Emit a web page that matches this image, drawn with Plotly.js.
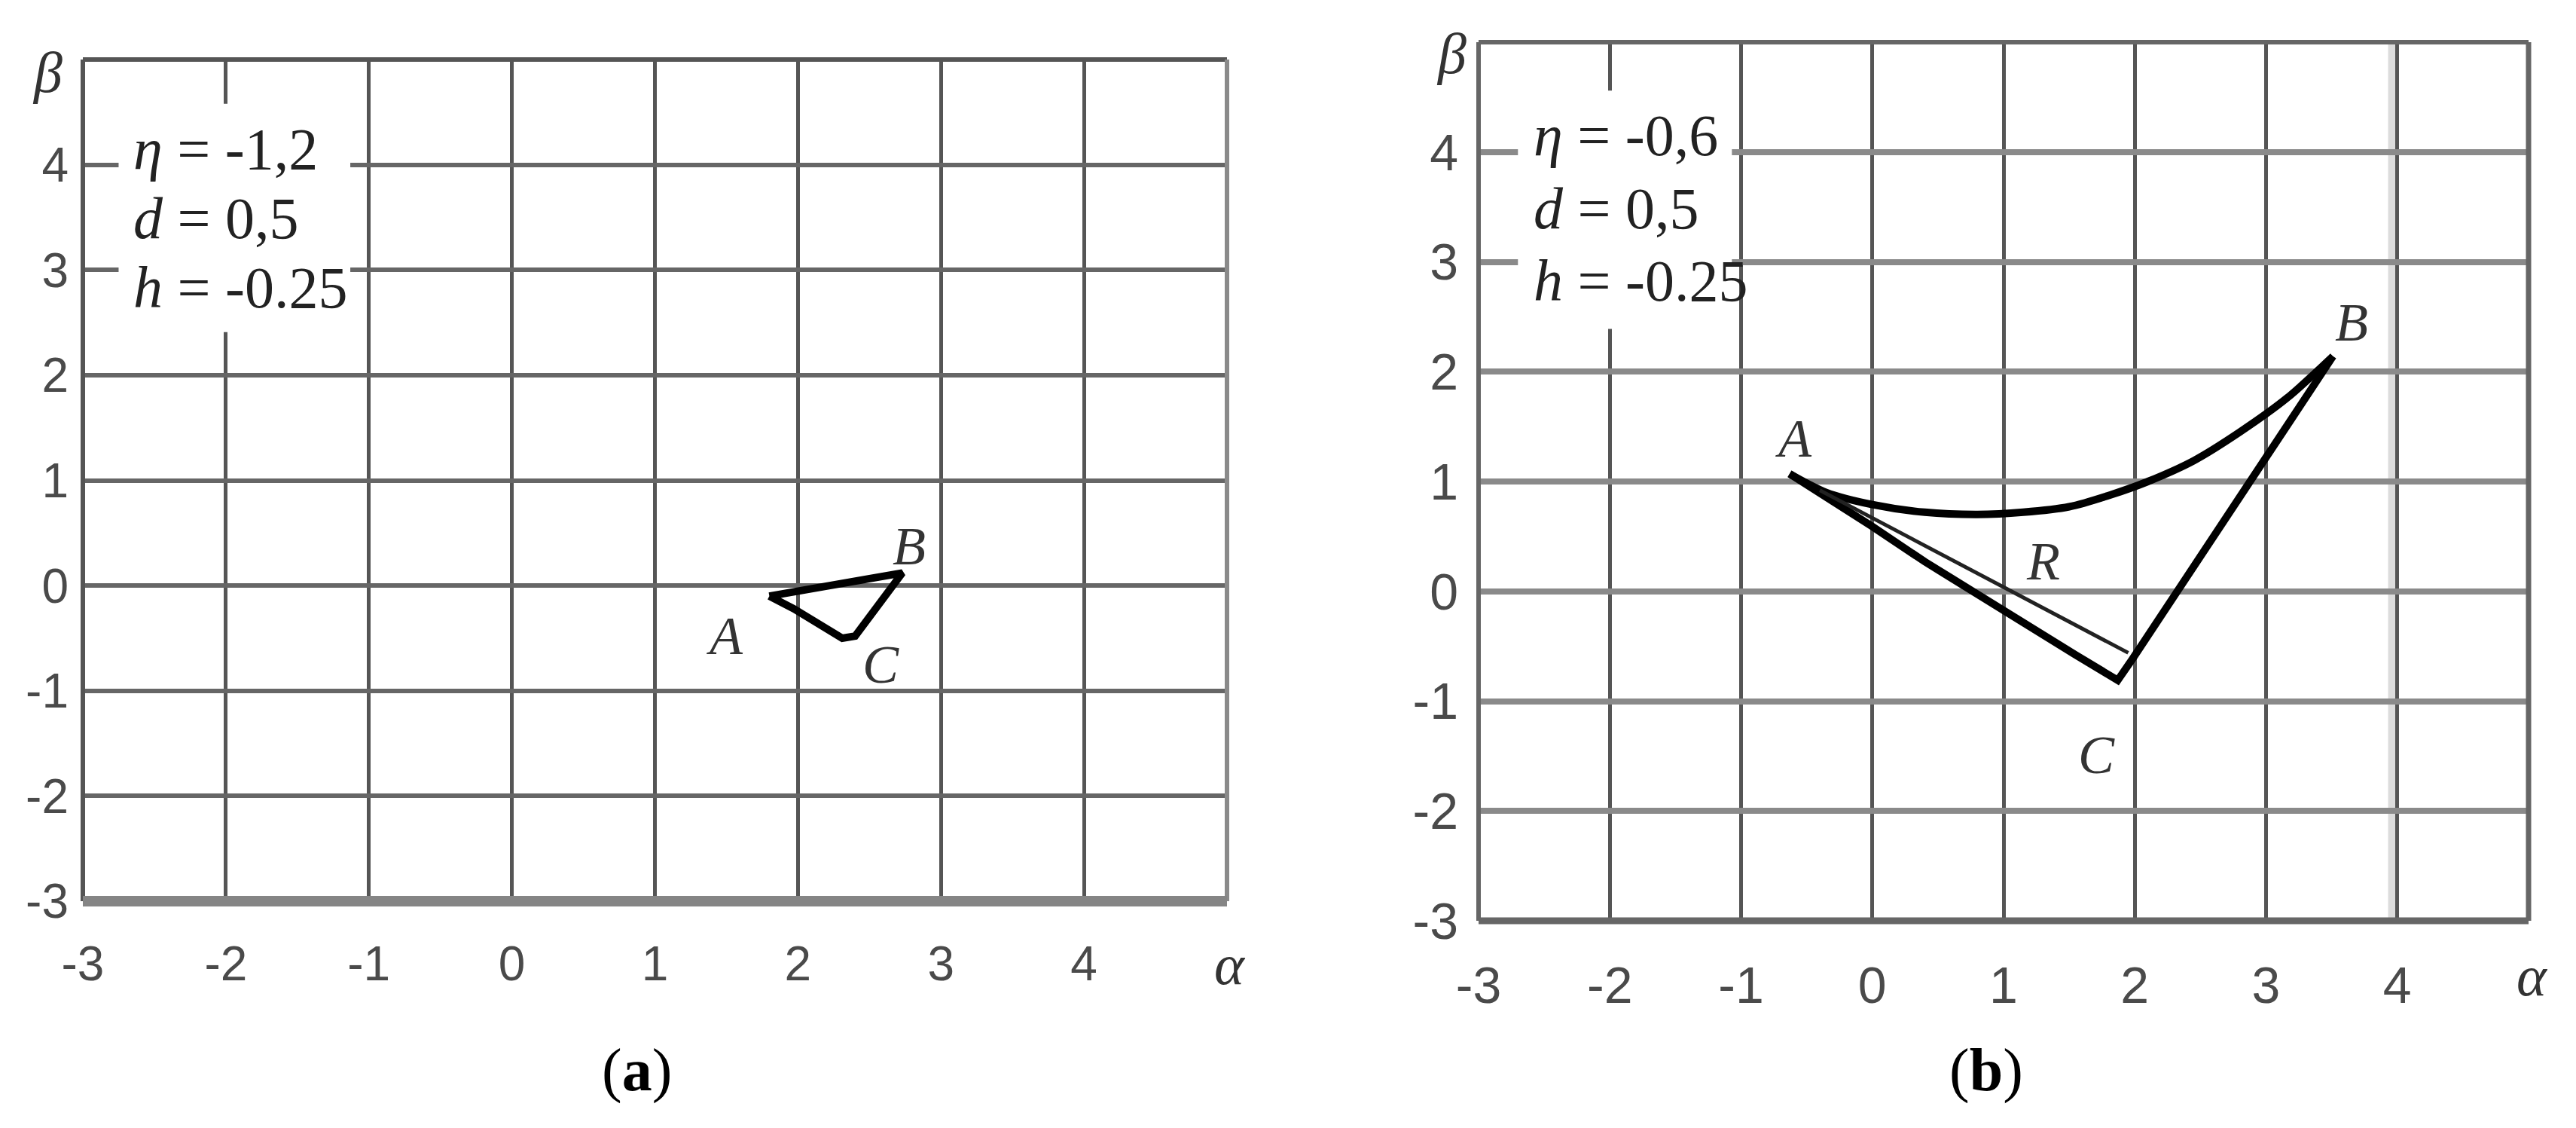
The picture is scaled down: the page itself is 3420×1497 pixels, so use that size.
<!DOCTYPE html>
<html>
<head>
<meta charset="utf-8">
<script src="https://cdn.plot.ly/plotly-3.0.1.min.js"></script>
<style>
  html, body { margin: 0; padding: 0; background: #fff; }
  #chart { width: 3420px; height: 1497px; }
</style>
</head>
<body>
<div id="chart"></div>
<script>
// ticks shared by both panels (alpha and beta run from -3 to 5)
const tickVals = [-3, -2, -1, 0, 1, 2, 3, 4];
const tickText = ["-3", "-2", "-1", "0", "1", "2", "3", "4"];

// panel (a): eta = -1,2
const paramsA = ["<i>η</i> = -1,2", "<i>d</i> = 0,5", "<i>h</i> = -0.25"];
const triAlphaA = [1.80, 2.16, 2.40, 2.73, 2.40, 2.31, 1.97, 1.80];
const triBetaA  = [-0.10, -0.01, 0.04, 0.12, -0.48, -0.50, -0.22, -0.10];

// panel (b): eta = -0,6
const paramsB = ["<i>η</i> = -0,6", "<i>d</i> = 0,5", "<i>h</i> = -0.25"];
// upper curve A -> B
const arcAlphaB = [-0.63, -0.35, 0.0, 0.4, 0.8, 1.15, 1.5, 1.82, 2.1, 2.45, 2.8, 3.16, 3.51];
const arcBetaB  = [1.07, 0.90, 0.79, 0.72, 0.70, 0.72, 0.77, 0.88, 1.00, 1.19, 1.45, 1.76, 2.14];
// lower sides A -> C -> B
const sideAlphaB = [-0.63, -0.47, 0.0, 0.4, 0.8, 1.2, 1.55, 1.87, 1.98, 3.51];
const sideBetaB  = [1.07, 0.95, 0.59, 0.27, -0.03, -0.32, -0.58, -0.81, -0.62, 2.14];
// thin line R
const rAlphaB = [-0.40, 1.95];
const rBetaB  = [0.92, -0.56];

const W = 3420, H = 1497;
const fx = p => p / W;
const fy = p => 1 - p / H;

const serif = "Liberation Serif, Times New Roman, serif";
const sans = "Liberation Sans, Arial, sans-serif";

function axisX(dom, anchor, size, standoff) {
  return {
    domain: dom, anchor: anchor, range: [-3, 5],
    tickmode: "array", tickvals: tickVals, ticktext: tickText,
    showgrid: true, gridcolor: "#555", gridwidth: 5,
    zeroline: false, showline: false, ticks: "",
    ticklabelstandoff: standoff,
    tickfont: { family: sans, size: size, color: "#4a4a4a" },
    fixedrange: true
  };
}
function axisY(dom, anchor, size, color, width, standoff) {
  return {
    domain: dom, anchor: anchor, range: [-3, 5],
    tickmode: "array", tickvals: tickVals, ticktext: tickText,
    showgrid: true, gridcolor: color, gridwidth: width,
    zeroline: false, showline: false, ticks: "",
    ticklabelstandoff: standoff,
    tickfont: { family: sans, size: size, color: "#4a4a4a" },
    fixedrange: true
  };
}

const traces = [
  { x: triAlphaA, y: triBetaA, xaxis: "x", yaxis: "y", type: "scatter", mode: "lines",
    line: { color: "#000", width: 10 }, hoverinfo: "skip" },
  { x: arcAlphaB, y: arcBetaB, xaxis: "x2", yaxis: "y2", type: "scatter", mode: "lines",
    line: { color: "#000", width: 10, shape: "spline", smoothing: 0.8 }, hoverinfo: "skip" },
  { x: sideAlphaB, y: sideBetaB, xaxis: "x2", yaxis: "y2", type: "scatter", mode: "lines",
    line: { color: "#000", width: 10 }, hoverinfo: "skip" },
  { x: rAlphaB, y: rBetaB, xaxis: "x2", yaxis: "y2", type: "scatter", mode: "lines",
    line: { color: "#222", width: 5 }, hoverinfo: "skip" }
];

function frame(xr, yr, col, w, side) {
  const s = { type: "line", xref: xr + " domain", yref: yr + " domain",
              line: { color: col, width: w }, layer: "above" };
  if (side === "top") Object.assign(s, { x0: 0, x1: 1, y0: 1, y1: 1 });
  if (side === "bottom") Object.assign(s, { x0: 0, x1: 1, y0: 0, y1: 0 });
  if (side === "left") Object.assign(s, { x0: 0, x1: 0, y0: 0, y1: 1 });
  if (side === "right") Object.assign(s, { x0: 1, x1: 1, y0: 0, y1: 1 });
  return s;
}

const shapes = [
  // white boxes behind the parameter text
  { type: "rect", xref: "x", yref: "y", x0: -2.75, x1: -1.13, y0: 2.41, y1: 4.58,
    fillcolor: "#fff", line: { width: 0 }, layer: "between" },
  { type: "rect", xref: "x2", yref: "y2", x0: -2.70, x1: -1.07, y0: 2.39, y1: 4.56,
    fillcolor: "#fff", line: { width: 0 }, layer: "between" },
  // light band along the alpha = 4 line of panel (b)
  { type: "rect", xref: "x2", yref: "y2 domain", x0: 3.93, x1: 3.985, y0: 0, y1: 1,
    fillcolor: "#dcdcdc", line: { width: 0 }, layer: "below" },
  frame("x", "y", "#555", 6, "top"),
  frame("x", "y", "#555", 6, "left"),
  frame("x", "y", "#8a8a8a", 6, "right"),
  frame("x", "y", "#858585", 14, "bottom"),
  frame("x2", "y2", "#666", 6, "top"),
  frame("x2", "y2", "#666", 6, "left"),
  frame("x2", "y2", "#666", 7, "right"),
  frame("x2", "y2", "#666", 9, "bottom")
];

const annotations = [];
function txt(xr, yr, x, y, text, size, anchor, color) {
  annotations.push({ xref: xr, yref: yr, x: x, y: y, text: text, showarrow: false,
    xanchor: anchor || "center", yanchor: "middle",
    font: { family: serif, size: size, color: color || "#222" } });
}

// parameter blocks
const paramRows = [4.15, 3.49, 2.83];
paramsA.forEach((t, i) => txt("x", "y", -2.66, paramRows[i], t, 78, "left"));
paramsB.forEach((t, i) => txt("x2", "y2", -2.59, paramRows[i], t, 78, "left"));

// point labels
const labelsA = [["A", 1.49, -0.48], ["B", 2.78, 0.375], ["C", 2.58, -0.75]];
const labelsB = [["A", -0.60, 1.39], ["B", 3.65, 2.45], ["C", 1.71, -1.49], ["R", 1.30, 0.27]];
labelsA.forEach(l => txt("x", "y", l[1], l[2], "<i>" + l[0] + "</i>", 72, "center", "#333"));
labelsB.forEach(l => txt("x2", "y2", l[1], l[2], "<i>" + l[0] + "</i>", 72, "center", "#333"));

// axis names and panel captions
txt("paper", "paper", fx(1633), fy(1280), "<i>α</i>", 76, "center", "#333");
txt("paper", "paper", fx(63), fy(96), "<i>β</i>", 76, "center", "#333");
txt("paper", "paper", fx(3362), fy(1295), "<i>α</i>", 76, "center", "#333");
txt("paper", "paper", fx(1927), fy(71), "<i>β</i>", 76, "center", "#333");
txt("paper", "paper", fx(845), fy(1420), "(<b>a</b>)", 80, "center", "#000");
txt("paper", "paper", fx(2637), fy(1420), "(<b>b</b>)", 80, "center", "#000");

const layout = {
  width: W, height: H,
  margin: { l: 0, r: 0, t: 0, b: 0 },
  paper_bgcolor: "#fff", plot_bgcolor: "#fff",
  showlegend: false,
  xaxis: axisX([fx(110), fx(1629)], "y", 64, 40),
  yaxis: axisY([fy(1196), fy(79)], "x", 64, "#666", 6, 18),
  xaxis2: axisX([fx(1963), fx(3357)], "y2", 68, 40),
  yaxis2: axisY([fy(1222), fy(56)], "x2", 68, "#8a8a8a", 8, 26),
  shapes: shapes,
  annotations: annotations
};

Plotly.newPlot("chart", traces, layout, { staticPlot: true });
</script>
</body>
</html>
